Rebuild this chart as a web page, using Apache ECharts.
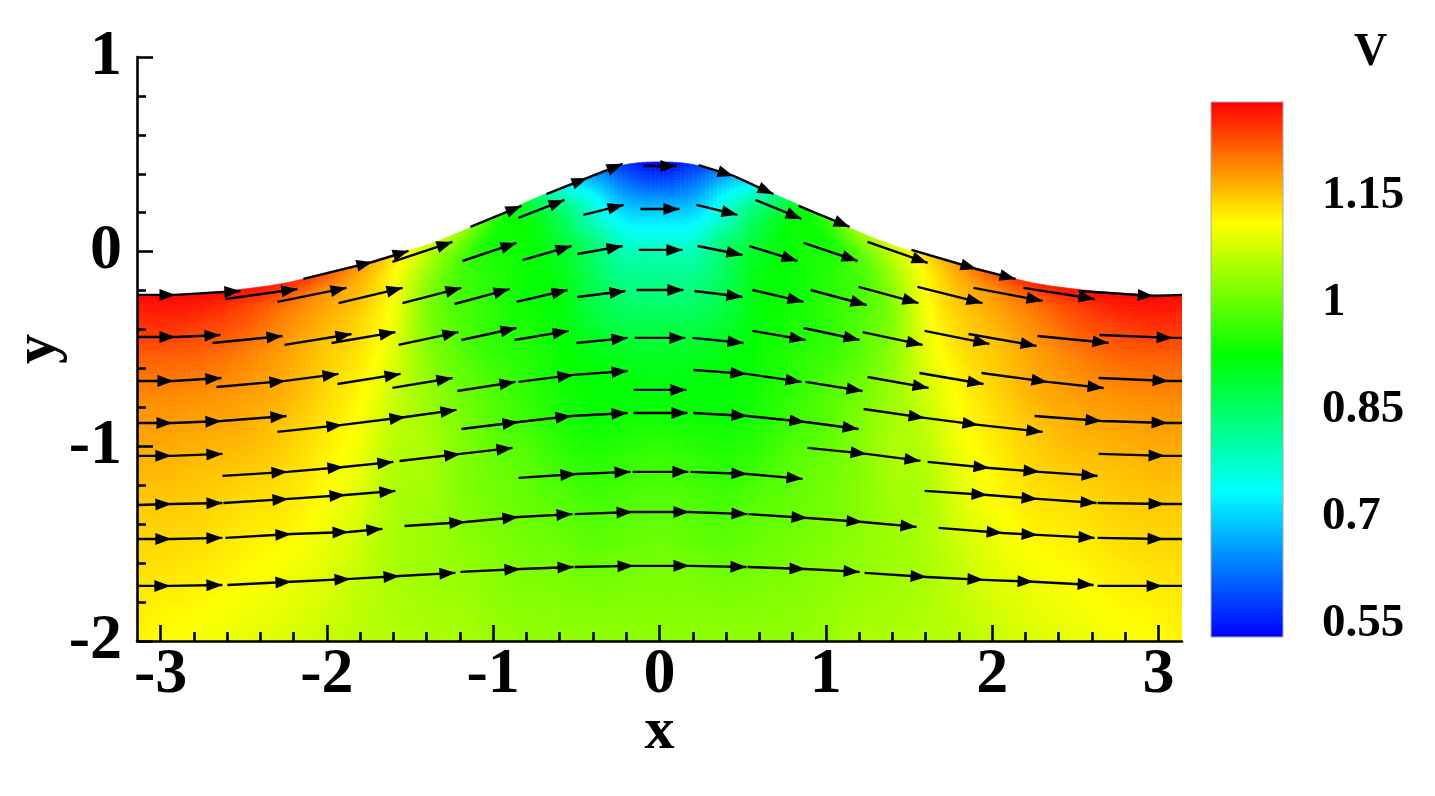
<!DOCTYPE html>
<html>
<head>
<meta charset="utf-8">
<title>Flow over a bump</title>
<style>html,body{margin:0;padding:0;background:#fff}#chart{width:1435px;height:796px}</style>
<script src="https://cdn.jsdelivr.net/npm/echarts@6/dist/echarts.min.js"></script>
</head>
<body>
<div id="chart"></div>
<script>
// ---- data ----
const xMajorTicks = [-3, -2, -1, 0, 1, 2, 3];
const xMinorTicks = [-2.8,-2.6,-2.4,-2.2,-1.8,-1.6,-1.4,-1.2,-0.8,-0.6,-0.4,-0.2,0.2,0.4,0.6,0.8,1.2,1.4,1.6,1.8,2.2,2.4,2.6,2.8];
const barTicks = [0.55, 0.7, 0.85, 1, 1.15];
const barRange = [0.532, 1.282];
const colorKnots = [0.532, 0.7365, 0.926, 1.1124, 1.282];
const colorNames = ['#0000ff', '#00ffff', '#00ff00', '#ffff00', '#ff0000'];

// |x| stations and bump surface height y at each station
const xStations = [0, 0.2, 0.4, 0.6, 0.8, 1, 1.2, 1.4, 1.6, 1.8, 2, 2.25, 2.5, 2.75, 3, Math.PI];
const surfaceY  = [0.461, 0.448, 0.394, 0.327, 0.255, 0.176, 0.101, 0.034, -0.017, -0.066, -0.109, -0.161, -0.192, -0.212, -0.222, -0.222];
// fraction of the height between y=-2 and the surface
const etaLevels = [0, 0.1, 0.2, 0.3, 0.4, 0.5, 0.6, 0.7, 0.8, 0.85, 0.9, 0.95, 1];

// V per station, listed from the surface (eta=1) down to the floor (eta=0)
const vAt0    = [0.533, 0.61, 0.69, 0.75, 0.80, 0.85, 0.90, 0.926, 0.96, 0.985, 1.005, 1.02, 1.03];
const vAt02   = [0.57, 0.64, 0.705, 0.76, 0.805, 0.855, 0.905, 0.928, 0.955, 0.98, 1.0, 1.018, 1.03];
const vAt04   = [0.66, 0.745, 0.79, 0.845, 0.86, 0.885, 0.92, 0.93, 0.95, 0.975, 0.995, 1.015, 1.03];
const vAt06   = [0.76, 0.85, 0.885, 0.905, 0.915, 0.925, 0.935, 0.945, 0.965, 0.99, 1.005, 1.02, 1.03];
const vAt08   = [0.89, 0.925, 0.93, 0.93, 0.93, 0.945, 0.955, 0.97, 0.99, 1.0, 1.012, 1.022, 1.032];
const vAt10   = [0.965, 0.935, 0.945, 0.95, 0.955, 0.96, 0.98, 0.99, 1.005, 1.012, 1.022, 1.03, 1.037];
const vAt12   = [1.04, 0.99, 0.975, 0.975, 0.98, 0.99, 1.008, 1.02, 1.022, 1.025, 1.032, 1.04, 1.05];
const vAt14   = [1.08, 1.05, 1.03, 1.02, 1.02, 1.03, 1.04, 1.05, 1.045, 1.04, 1.04, 1.045, 1.05];
const vAt16   = [1.135, 1.115, 1.11, 1.103, 1.097, 1.085, 1.072, 1.06, 1.052, 1.05, 1.05, 1.052, 1.058];
const vAt18   = [1.18, 1.16, 1.15, 1.14, 1.135, 1.12, 1.11, 1.10, 1.09, 1.08, 1.07, 1.065, 1.06];
const vAt20   = [1.225, 1.185, 1.17, 1.16, 1.15, 1.14, 1.13, 1.12, 1.112, 1.10, 1.09, 1.08, 1.07];
const vAt225  = [1.26, 1.215, 1.195, 1.185, 1.175, 1.165, 1.15, 1.14, 1.13, 1.118, 1.105, 1.095, 1.085];
const vAt25   = [1.275, 1.24, 1.225, 1.21, 1.195, 1.178, 1.165, 1.15, 1.135, 1.125, 1.115, 1.105, 1.095];
const vAt275  = [1.28, 1.26, 1.24, 1.225, 1.21, 1.185, 1.17, 1.155, 1.145, 1.135, 1.125, 1.115, 1.105];
const vAt30   = [1.28, 1.265, 1.25, 1.23, 1.215, 1.19, 1.175, 1.16, 1.148, 1.14, 1.13, 1.12, 1.112];
const vAtPi   = [1.28, 1.26, 1.245, 1.23, 1.215, 1.19, 1.175, 1.16, 1.148, 1.14, 1.132, 1.125, 1.12];
const vColumns = [vAt0, vAt02, vAt04, vAt06, vAt08, vAt10, vAt12, vAt14, vAt16, vAt18, vAt20, vAt225, vAt25, vAt275, vAt30, vAtPi];

// streamtrace pieces: x,y vertices in axis units, an arrowhead ends each vertex after the first
const streamPieces = [
 [-3.139,-.222,-2.910,-.222,-2.520,-.202],[-2.610,-.243,-2.177,-.192],[-2.297,-.258,-1.882,-.186],[-1.930,-.264,-1.545,-.186],
 [-1.545,-.264,-1.191,-.186],[-1.233,-.269,-.902,-.192],[-2.141,-.140,-1.726,-.053,-1.509,.004],[-1.606,-.053,-1.245,.050],
 [-1.137,.127,-.830,.235],[-.848,.173,-.571,.266],[-.680,.296,-.433,.379,-.222,.451],[-.096,.440,.102,.440],
 [.235,.445,.445,.389,.685,.296],[.577,.266,.854,.168],[.836,.235,1.143,.127],[1.251,.050,1.612,-.058],
 [1.515,.009,1.906,-.089,2.141,-.140],[2.189,-.186,2.616,-.243],[2.520,-.202,2.971,-.228,3.1416,-.222],
 [1.888,-.186,2.303,-.253],[1.551,-.181,1.942,-.264],[1.197,-.181,1.557,-.264],[.908,-.197,1.245,-.274],[.559,-.197,.866,-.258],
 [.210,-.202,.499,-.233],[-.138,-.197,.144,-.197],[-.493,-.233,-.204,-.202],[-.860,-.258,-.553,-.197],
 [-1.185,-.048,-.860,.045],[-.824,-.043,-.529,.029],[-.493,-.012,-.222,.029],[-.126,.009,.138,.009],[.229,.029,.499,-.017],
 [.541,.029,.830,-.048],[.866,.045,1.191,-.048],[-.457,.189,-.216,.240],[-.114,.219,.120,.219],[.222,.240,.469,.189],
 [-3.139,-.438,-2.910,-.438,-2.640,-.428],[-2.688,-.469,-2.267,-.433],[-2.255,-.479,-1.852,-.423],[-1.972,-.469,-1.588,-.413],
 [-1.569,-.479,-1.209,-.413],[-1.191,-.454,-.860,-.392],[-.872,-.454,-.547,-.407],[-.499,-.469,-.192,-.443],[-.150,-.443,.156,-.443],
 [.198,-.443,.505,-.469],[.559,-.407,.878,-.454],[.866,-.392,1.203,-.454],[1.221,-.413,1.582,-.479],[1.594,-.407,1.984,-.474],
 [1.858,-.423,2.267,-.484],[2.273,-.433,2.700,-.469],[2.646,-.428,3.085,-.443,3.1416,-.443],
 [-3.139,-.664,-2.922,-.664,-2.634,-.649],[-2.664,-.695,-2.249,-.664,-1.930,-.628],[-1.936,-.680,-1.557,-.628],[-1.606,-.700,-1.245,-.649],
 [-1.215,-.716,-.866,-.669],[-.848,-.669,-.517,-.633,-.192,-.613],[-.156,-.710,.162,-.710],[.204,-.608,.523,-.628,.854,-.669],
 [.878,-.669,1.221,-.716],[1.251,-.644,1.618,-.700],[1.563,-.623,1.948,-.680],[1.936,-.623,2.333,-.669,2.670,-.700],[2.640,-.649,3.061,-.664,3.1416,-.664],
 [-3.139,-.880,-2.928,-.880,-2.634,-.870,-2.243,-.844],[-2.297,-.926,-1.906,-.890,-1.527,-.849,-1.221,-.813],
 [-1.191,-.911,-.848,-.875,-.529,-.844,-.192,-.829],[-.156,-.829,.168,-.829],[.204,-.829,.529,-.844,.878,-.875,1.197,-.911],
 [1.227,-.808,1.594,-.854,1.918,-.890,2.303,-.926],[2.255,-.844,2.658,-.870,3.055,-.880,3.1416,-.880],
 [-3.139,-1.049,-2.935,-1.049,-2.628,-1.039],[-2.628,-1.152,-2.237,-1.131,-1.900,-1.106,-1.600,-1.080],[-1.563,-1.075,-1.197,-1.039,-.884,-1.008],
 [-.848,-1.162,-.499,-1.142,-.174,-1.131],[-.162,-1.131,.174,-1.131],[.186,-1.131,.529,-1.142,.860,-1.167],[.890,-1.008,1.245,-1.039,1.569,-1.075],
 [1.612,-1.080,1.984,-1.111,2.285,-1.131,2.634,-1.152],[2.640,-1.039,3.037,-1.049,3.1416,-1.049],
 [-3.139,-1.301,-2.935,-1.296,-2.628,-1.291],[-2.622,-1.291,-2.231,-1.270,-1.888,-1.250,-1.588,-1.229],
 [1.594,-1.229,1.972,-1.250,2.273,-1.270,2.628,-1.291],[2.634,-1.291,3.037,-1.296,3.1416,-1.296],
 [-3.139,-1.476,-2.935,-1.476,-2.628,-1.470],[-2.610,-1.470,-2.213,-1.450,-1.870,-1.440,-1.666,-1.424],[-1.533,-1.409,-1.167,-1.389,-.848,-1.363,-.523,-1.348],
 [-.511,-1.348,-.162,-1.337,.180,-1.337,.529,-1.348],[.535,-1.348,.890,-1.368,1.221,-1.389,1.545,-1.414],[1.678,-1.419,2.063,-1.445,2.273,-1.455,2.616,-1.470],
 [2.634,-1.470,3.031,-1.476,3.1416,-1.476],
 [-3.139,-1.717,-2.941,-1.717,-2.628,-1.712],[-2.598,-1.712,-2.213,-1.696,-1.858,-1.681,-1.563,-1.666,-1.227,-1.650],[-1.197,-1.645,-.836,-1.630,-.517,-1.620],
 [-.511,-1.620,-.156,-1.614,.180,-1.614,.523,-1.620],[.529,-1.620,.878,-1.630,1.203,-1.645],[1.233,-1.650,1.606,-1.671,1.948,-1.686,2.249,-1.696,2.610,-1.712],
 [2.634,-1.717,3.025,-1.717,3.1416,-1.717]
];

// ---- rendering ----
const FONT = 'Liberation Serif';
const chart = echarts.init(document.getElementById('chart'), null, {renderer: 'canvas'});

// the field is symmetric about x=0: unfold the half-table read above
const meshX = xStations.slice(1).reverse().map(v => -v).concat(xStations);
const meshTop = surfaceY.slice(1).reverse().concat(surfaceY);
const meshV = vColumns.slice(1).reverse().concat(vColumns).map(c => c.slice().reverse());

function colorOf(v) {
  const k = colorKnots;
  if (v <= k[0]) return colorNames[0];
  for (let i = 1; i < k.length; i++) {
    if (v <= k[i]) return echarts.color.lerp((v - k[i-1]) / (k[i] - k[i-1]), [colorNames[i-1], colorNames[i]]);
  }
  return colorNames[colorNames.length - 1];
}

// smooth shading between the read mesh values (non-uniform cubic Hermite)
function shade(xs, ys, i, s) {
  const n = xs.length;
  const slope = k => {
    const a = Math.max(k - 1, 0), b = Math.min(k + 1, n - 1);
    return (ys[b] - ys[a]) / (xs[b] - xs[a]);
  };
  const w = xs[i+1] - xs[i], s2 = s * s, s3 = s2 * s;
  return (2*s3 - 3*s2 + 1) * ys[i] + (s3 - 2*s2 + s) * w * slope(i) +
         (-2*s3 + 3*s2) * ys[i+1] + (s3 - s2) * w * slope(i+1);
}

const cells = [];
for (let i = 0; i < meshX.length - 1; i++)
  for (let j = 0; j < etaLevels.length - 1; j++)
    cells.push([meshX[i], etaLevels[j], i, j]);

const SUBX = 8, SUBY = 8;
function renderCell(params, api) {
  const i = api.value(2), j = api.value(3);
  const x0 = meshX[i], x1 = meshX[i+1], e0 = etaLevels[j], e1 = etaLevels[j+1];
  const pt = (s, t) => {
    const h = shade(meshX, meshTop, i, s), e = e0 + (e1 - e0) * t;
    return api.coord([x0 + (x1 - x0) * s, -2 + e * (h + 2)]);
  };
  const children = [];
  for (let q = 0; q < SUBY; q++) {
    const t0 = q / SUBY, t1 = (q + 1) / SUBY, tc = (t0 + t1) / 2;
    const row = meshV.map(c => shade(etaLevels, c, j, tc));
    for (let p = 0; p < SUBX; p++) {
      const s0 = p / SUBX, s1 = (p + 1) / SUBX, sc = (s0 + s1) / 2;
      const col = colorOf(shade(meshX, row, i, sc));
      children.push({type: 'polygon', shape: {points: [pt(s0, t0), pt(s1, t0), pt(s1, t1), pt(s0, t1)]},
        style: {fill: col, stroke: col, lineWidth: 0.6}, silent: true});
    }
  }
  return {type: 'group', children};
}

function renderPiece(params, api) {
  const piece = streamPieces[api.value(2)];
  const pts = [];
  for (let k = 0; k < piece.length; k += 2) pts.push(api.coord([piece[k], piece[k+1]]));
  const children = [{type: 'polyline', shape: {points: pts},
    style: {stroke: '#000', fill: null, lineWidth: 2.4}, silent: true}];
  for (let k = 1; k < pts.length; k++) {
    if (piece[2*k] >= 3.14) continue;   // the trace simply runs off the right edge here
    const [tx, ty] = pts[k], [px, py] = pts[k-1];
    const L = Math.hypot(tx - px, ty - py) || 1, ux = (tx - px) / L, uy = (ty - py) / L;
    const bx = tx - ux * 16, by = ty - uy * 16;
    children.push({type: 'polygon', silent: true, style: {fill: '#000'},
      shape: {points: [[tx, ty], [bx - uy * 6, by + ux * 6], [bx + uy * 6, by - ux * 6]]}});
  }
  return {type: 'group', children};
}

function renderBar(params, api) {
  const lo = api.coord([0, api.value(1)]), hi = api.coord([1, api.value(2)]);
  const stops = colorKnots.map((v, i) => ({offset: (v - barRange[0]) / (barRange[1] - barRange[0]), color: colorNames[i]}));
  return {type: 'rect', silent: true, shape: {x: lo[0], y: hi[1], width: hi[0] - lo[0], height: lo[1] - hi[1]},
    style: {stroke: '#a8a8a8', lineWidth: 1, fill: new echarts.graphic.LinearGradient(0, 1, 0, 0, stops)}};
}

const labelStyle = {fontFamily: FONT, fontWeight: 'bold', color: '#000'};
const axisBlack = {color: '#000', width: 2.6};

chart.setOption({
  animation: false,
  backgroundColor: '#fff',
  title: {text: 'V', left: 1349, top: 25, textStyle: {fontFamily: FONT, fontWeight: 'bold', fontSize: 46, color: '#000'}},
  grid: [
    {left: 137, top: 57, width: 1045, height: 584, outerBoundsMode: 'none'},
    {left: 1211, top: 102, width: 72, height: 535, outerBoundsMode: 'none'}
  ],
  xAxis: [
    {type: 'value', gridIndex: 0, min: -Math.PI, max: Math.PI, z: 5, splitLine: {show: false},
     name: 'x', nameLocation: 'middle', nameGap: 61, nameMoveOverlap: false, nameTextStyle: {...labelStyle, fontSize: 60},
     axisLine: {onZero: false, lineStyle: axisBlack},
     axisTick: {inside: true, length: 16, lineStyle: axisBlack, customValues: xMajorTicks},
     axisLabel: {...labelStyle, fontSize: 64, margin: 2, customValues: xMajorTicks, showMinLabel: true, showMaxLabel: true}},
    {type: 'value', gridIndex: 0, min: -Math.PI, max: Math.PI, position: 'bottom', z: 5, splitLine: {show: false},
     axisLine: {show: false, onZero: false}, axisLabel: {show: false},
     axisTick: {inside: true, length: 9, lineStyle: axisBlack, customValues: xMinorTicks}},
    {type: 'value', gridIndex: 1, min: 0, max: 1, show: false}
  ],
  yAxis: [
    {type: 'value', gridIndex: 0, min: -2, max: 1, interval: 1, z: 5, splitLine: {show: false},
     name: 'y', nameLocation: 'middle', nameGap: 69, nameMoveOverlap: false, nameRotate: 90, nameTextStyle: {...labelStyle, fontSize: 60},
     axisLine: {onZero: false, lineStyle: axisBlack},
     axisTick: {inside: true, length: 16, lineStyle: axisBlack},
     minorTick: {show: true, splitNumber: 5, length: 9, lineStyle: axisBlack},
     axisLabel: {...labelStyle, fontSize: 64, margin: 15, padding: [6, 0, 0, 0]}},
    {type: 'value', gridIndex: 1, position: 'right', min: barRange[0], max: barRange[1], splitLine: {show: false},
     axisLine: {show: false}, axisTick: {show: false},
     axisLabel: {...labelStyle, fontSize: 47, margin: 39, align: 'left', padding: [4, 0, 0, 0], customValues: barTicks, showMinLabel: true, showMaxLabel: true}}
  ],
  series: [
    {type: 'custom', name: 'V', xAxisIndex: 0, yAxisIndex: 0, z: 1, silent: true, clip: true,
     renderItem: renderCell, data: cells, encode: {x: 0}},
    {type: 'custom', name: 'streamtraces', xAxisIndex: 0, yAxisIndex: 0, z: 3, silent: true, clip: true,
     renderItem: renderPiece, data: streamPieces.map((p, i) => [p[0], p[1], i]), encode: {x: 0, y: 1}},
    {type: 'custom', name: 'colour bar', xAxisIndex: 2, yAxisIndex: 1, z: 1, silent: true,
     renderItem: renderBar, data: [[0, barRange[0], barRange[1]]], encode: {x: 0, y: [1, 2]}}
  ]
});
</script>
</body>
</html>
